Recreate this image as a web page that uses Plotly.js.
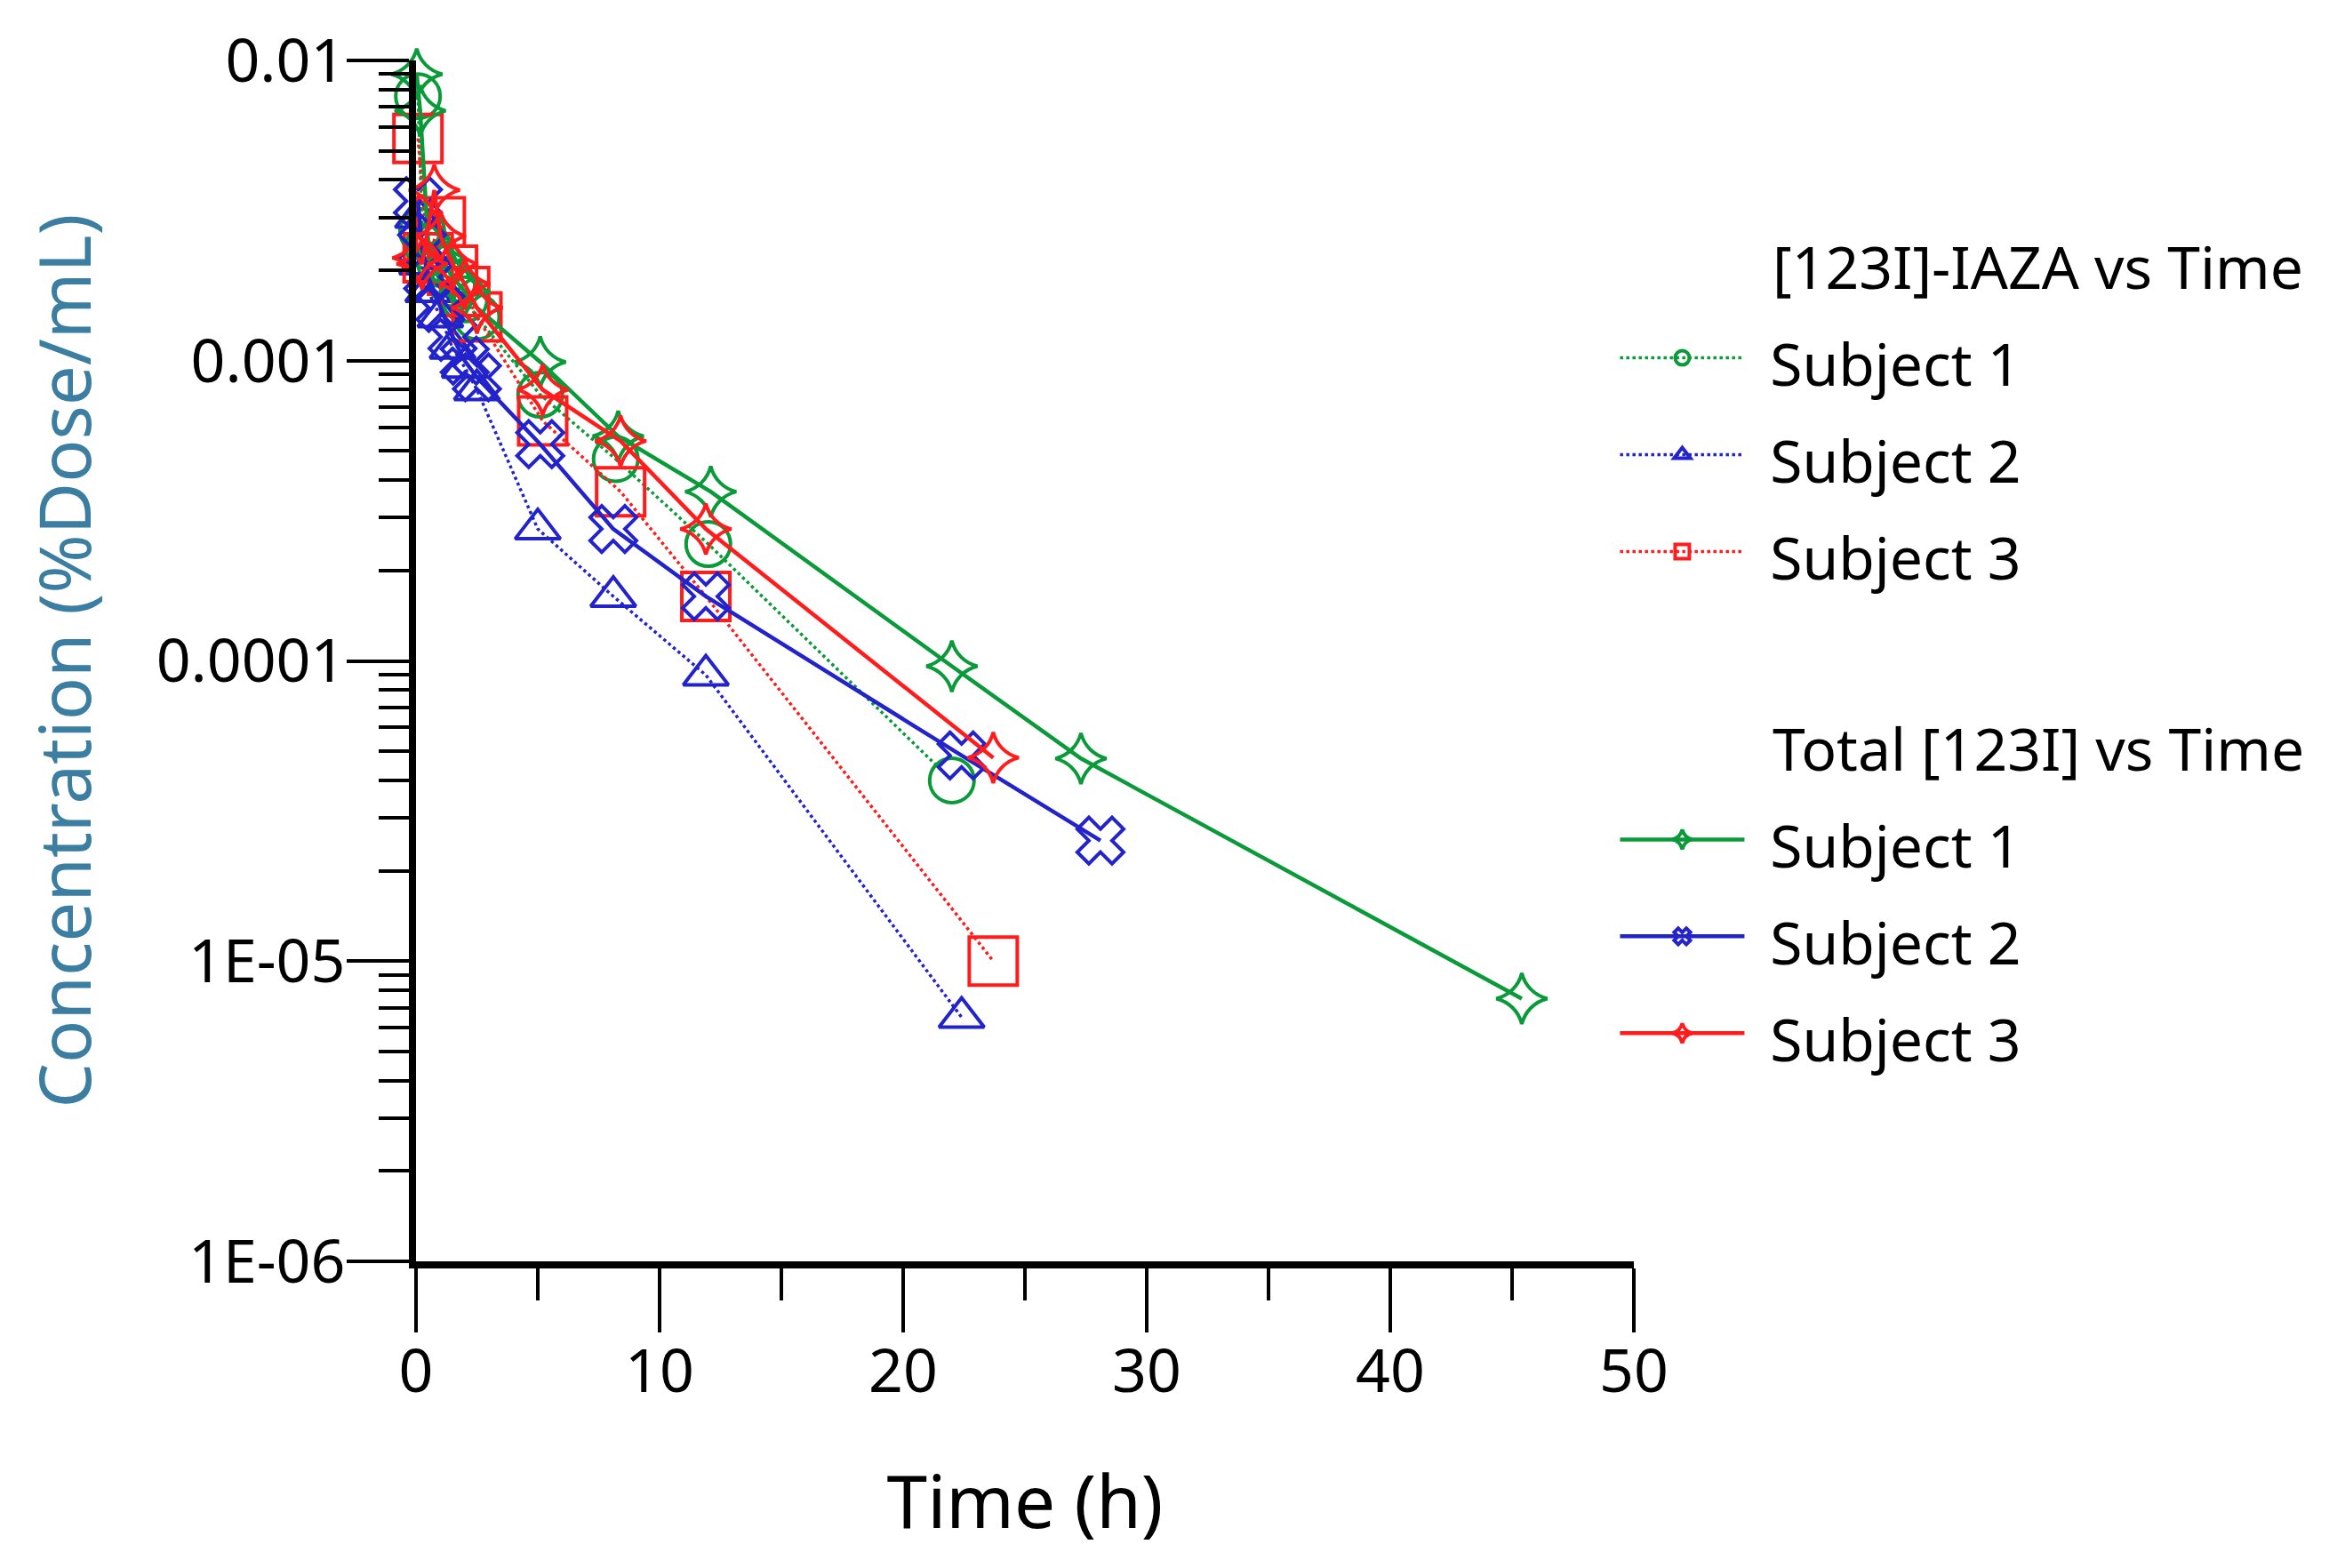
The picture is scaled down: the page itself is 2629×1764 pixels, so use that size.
<!DOCTYPE html>
<html>
<head>
<meta charset="utf-8">
<script src="https://cdn.plot.ly/plotly-3.0.1.min.js"></script>
<style>
  html, body { margin: 0; padding: 0; background: #fff; }
</style>
</head>
<body>
<div id="chart"></div>
<script>
/* Plasma concentration of [123I]-IAZA and total [123I] vs time, log scale. */

// [123I]-IAZA (dotted lines, open markers)
const iazaS1Time = [0.08, 0.25, 0.5, 1, 1.5, 2, 2.5, 5.1, 8.2, 12.0, 22.0];
const iazaS1Conc = [0.0076, 0.0027, 0.0024, 0.0021, 0.0018, 0.0016, 0.0014, 0.00077, 0.00047, 0.000245, 0.000040];
const iazaS2Time = [0.08, 0.25, 0.5, 1, 1.5, 2, 2.5, 5.0, 8.1, 11.9, 22.4];
const iazaS2Conc = [0.0030, 0.0021, 0.0017, 0.0014, 0.0011, 0.00095, 0.00080, 0.000275, 0.000164, 0.0000897, 0.0000065];
const iazaS3Time = [0.08, 0.5, 1.0, 1.5, 2, 2.5, 5.2, 8.4, 11.9, 23.7];
const iazaS3Conc = [0.0055, 0.0022, 0.0029, 0.0020, 0.0017, 0.0014, 0.00063, 0.000366, 0.000164, 0.0000100];

// Total [123I] (solid lines)
const totalS1Time = [0.03, 0.17, 0.5, 1, 1.5, 2, 2.5, 5.1, 8.3, 12.1, 22.0, 27.3, 45.4];
const totalS1Conc = [0.0090, 0.0068, 0.0025, 0.0022, 0.0019, 0.0017, 0.0015, 0.00099, 0.00056, 0.000366, 0.000096, 0.0000473, 0.0000075];
const totalS2Time = [0.08, 0.25, 0.5, 1, 1.5, 2, 2.5, 5.1, 8.1, 11.9, 22.4, 28.1];
const totalS2Conc = [0.0034, 0.0024, 0.0019, 0.0015, 0.0012, 0.0010, 0.00088, 0.000527, 0.000275, 0.000164, 0.0000484, 0.0000252];
const totalS3Time = [0.08, 0.25, 0.75, 1, 1.5, 2, 2.5, 5.2, 8.4, 11.9, 23.7];
const totalS3Conc = [0.0022, 0.0021, 0.0037, 0.0026, 0.0021, 0.0018, 0.0015, 0.00080, 0.00054, 0.000275, 0.0000476];

const subjectNames = ["Subject 1", "Subject 2", "Subject 3"];
const groupTitles = ["[123I]-IAZA vs Time", "Total [123I] vs Time"];

const yTickVals = [1e-6, 1e-5, 1e-4, 1e-3, 1e-2];
const yTickText = ["1E-06", "1E-05", "0.0001", "0.001", "0.01"];

const GREEN = "#0b9a3a";
const BLUE = "#2323cc";
const RED = "#ff1c1c";
const FONT = "'Noto Sans', 'Open Sans', sans-serif";
const TEXT_PX = 66;   // drawn size of legend text
const ROW_PX = 81.5;  // legend font size used only for row spacing

const pad = "\u00a0".repeat(10);
function legendLabel(s) {
  return `<span style="font-size:${TEXT_PX}px">${s}</span>`;
}

function iazaTrace(x, y, name, color, symbol, size) {
  return {
    x, y, name: legendLabel("\u00a0\u200a" + name),
    type: "scatter", mode: "lines+markers", cliponaxis: false,
    legendgroup: "iaza",
    legendgrouptitle: { text: legendLabel(pad + groupTitles[0]), font: { size: ROW_PX, color: "#000" } },
    line: { color, width: 3.5, dash: "dot" },
    marker: { symbol, size, color, line: { color, width: 4 } },
  };
}

function totalTrace(x, y, name, color, symbol, size) {
  return {
    x, y, name: legendLabel("\u00a0\u200a" + name),
    type: "scatter", mode: "lines+markers", cliponaxis: false,
    legendgroup: "total",
    legendgrouptitle: { text: legendLabel(pad + groupTitles[1]), font: { size: ROW_PX, color: "#000" } },
    line: { color, width: 4.5 },
    marker: { symbol, size, color, line: { color, width: 4 } },
  };
}

const traces = [
  iazaTrace(iazaS1Time, iazaS1Conc, subjectNames[0], GREEN, "circle-open", 50),
  iazaTrace(iazaS2Time, iazaS2Conc, subjectNames[1], BLUE, "triangle-up-open", 44),
  iazaTrace(iazaS3Time, iazaS3Conc, subjectNames[2], RED, "square-open", 54),
  totalTrace(totalS1Time, totalS1Conc, subjectNames[0], GREEN, "star-diamond-open", 41),
  totalTrace(totalS2Time, totalS2Conc, subjectNames[1], BLUE, "x-open", 46),
  totalTrace(totalS3Time, totalS3Conc, subjectNames[2], RED, "star-diamond-open", 41),
];

const layout = {
  width: 2629,
  height: 1764,
  margin: { l: 468, r: 791, t: 68, b: 345 },
  paper_bgcolor: "#fff",
  plot_bgcolor: "#fff",
  font: { family: FONT, size: 64, color: "#000" },
  showlegend: true,
  legend: {
    x: 0.985, y: 0.877, xanchor: "left", yanchor: "top",
    font: { size: ROW_PX, color: "#000" },
    itemwidth: 140,
    tracegroupgap: 106,
    traceorder: "grouped",
    bgcolor: "rgba(0,0,0,0)",
  },
  xaxis: {
    range: [0, 50], tick0: 0, dtick: 10,
    showline: true, linewidth: 8, linecolor: "#000",
    ticks: "outside", ticklen: 72, tickwidth: 4, tickcolor: "#000",
    minor: { dtick: 5, ticks: "outside", ticklen: 36, tickwidth: 4, tickcolor: "#000" },
    showgrid: false, zeroline: false,
    tickfont: { size: 68, color: "#000" },
    ticklabelstandoff: -15,
    automargin: false,
    title: { text: "Time (h)", font: { size: 82, color: "#000" }, standoff: 80 },
  },
  yaxis: {
    type: "log", range: [-6, -2],
    tickmode: "array", tickvals: yTickVals, ticktext: yTickText,
    showline: true, linewidth: 8, linecolor: "#000",
    ticks: "outside", ticklen: 70, tickwidth: 4, tickcolor: "#000",
    minor: { dtick: "D1", ticks: "outside", ticklen: 34, tickwidth: 4, tickcolor: "#000" },
    showgrid: false, zeroline: false,
    tickfont: { size: 68, color: "#000" },
    ticklabelstandoff: -12,
    automargin: false,
    title: { text: "Concentration (%Dose/mL)", font: { size: 80, color: "#3b7ea1" }, standoff: 50 },
  },
};

Plotly.newPlot("chart", traces, layout, { displayModeBar: false, responsive: false });
</script>
</body>
</html>
